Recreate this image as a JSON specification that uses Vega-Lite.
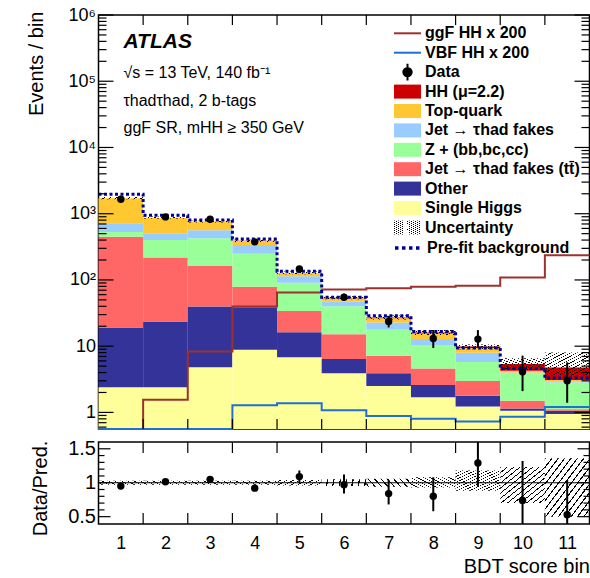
{
  "$schema": "https://vega.github.io/schema/vega-lite/v6.json",
  "padding": {"left": 25.5, "top": 5, "right": 0, "bottom": 0},
  "background": "white",
  "config": {
    "font": "Liberation Sans",
    "view": {"stroke": "#000", "strokeWidth": 1.5},
    "axis": {"grid": false, "domain": false, "ticks": false, "labelFont": "Liberation Sans", "titleFont": "Liberation Sans", "titleFontWeight": "normal", "labelColor": "#000", "titleColor": "#000", "labelFlush": false, "labelOverlap": false, "labelBound": false},
    "legend": {"orient": "none", "title": null, "padding": 0, "labelFont": "Liberation Sans", "labelFontSize": 16, "labelFontWeight": "bold", "labelColor": "#000", "labelOffset": 9.5, "labelLimit": 400, "symbolSize": 196, "rowPadding": 3.4, "legendX": 301}
  },
  "datasets": {
    "comps": [
      {"bin":1,"lo":0.5,"hi":1.5,"comp":"Single Higgs","v":2.4},
      {"bin":1,"lo":0.5,"hi":1.5,"comp":"Other","v":16.7},
      {"bin":1,"lo":0.5,"hi":1.5,"comp":"Jet → τhad fakes (tt̄)","v":428},
      {"bin":1,"lo":0.5,"hi":1.5,"comp":"Z + (bb,bc,cc)","v":84},
      {"bin":1,"lo":0.5,"hi":1.5,"comp":"Jet → τhad fakes","v":188},
      {"bin":1,"lo":0.5,"hi":1.5,"comp":"Top-quark","v":994},
      {"bin":1,"lo":0.5,"hi":1.5,"comp":"HH (μ=2.2)","v":0.01},
      {"bin":2,"lo":1.5,"hi":2.5,"comp":"Single Higgs","v":2.4},
      {"bin":2,"lo":1.5,"hi":2.5,"comp":"Other","v":21.2},
      {"bin":2,"lo":1.5,"hi":2.5,"comp":"Jet → τhad fakes (tt̄)","v":194},
      {"bin":2,"lo":1.5,"hi":2.5,"comp":"Z + (bb,bc,cc)","v":185},
      {"bin":2,"lo":1.5,"hi":2.5,"comp":"Jet → τhad fakes","v":105},
      {"bin":2,"lo":1.5,"hi":2.5,"comp":"Top-quark","v":365},
      {"bin":2,"lo":1.5,"hi":2.5,"comp":"HH (μ=2.2)","v":0.02},
      {"bin":3,"lo":2.5,"hi":3.5,"comp":"Single Higgs","v":4.8},
      {"bin":3,"lo":2.5,"hi":3.5,"comp":"Other","v":34.9},
      {"bin":3,"lo":2.5,"hi":3.5,"comp":"Jet → τhad fakes (tt̄)","v":123},
      {"bin":3,"lo":2.5,"hi":3.5,"comp":"Z + (bb,bc,cc)","v":264},
      {"bin":3,"lo":2.5,"hi":3.5,"comp":"Jet → τhad fakes","v":137},
      {"bin":3,"lo":2.5,"hi":3.5,"comp":"Top-quark","v":196},
      {"bin":3,"lo":2.5,"hi":3.5,"comp":"HH (μ=2.2)","v":0.1},
      {"bin":4,"lo":3.5,"hi":4.5,"comp":"Single Higgs","v":8.8},
      {"bin":4,"lo":3.5,"hi":4.5,"comp":"Other","v":30},
      {"bin":4,"lo":3.5,"hi":4.5,"comp":"Jet → τhad fakes (tt̄)","v":40},
      {"bin":4,"lo":3.5,"hi":4.5,"comp":"Z + (bb,bc,cc)","v":169},
      {"bin":4,"lo":3.5,"hi":4.5,"comp":"Jet → τhad fakes","v":88},
      {"bin":4,"lo":3.5,"hi":4.5,"comp":"Top-quark","v":53},
      {"bin":4,"lo":3.5,"hi":4.5,"comp":"HH (μ=2.2)","v":0.45},
      {"bin":5,"lo":4.5,"hi":5.5,"comp":"Single Higgs","v":6.8},
      {"bin":5,"lo":4.5,"hi":5.5,"comp":"Other","v":9.5},
      {"bin":5,"lo":4.5,"hi":5.5,"comp":"Jet → τhad fakes (tt̄)","v":17.8},
      {"bin":5,"lo":4.5,"hi":5.5,"comp":"Z + (bb,bc,cc)","v":57},
      {"bin":5,"lo":4.5,"hi":5.5,"comp":"Jet → τhad fakes","v":23},
      {"bin":5,"lo":4.5,"hi":5.5,"comp":"Top-quark","v":13},
      {"bin":5,"lo":4.5,"hi":5.5,"comp":"HH (μ=2.2)","v":0.7},
      {"bin":6,"lo":5.5,"hi":6.5,"comp":"Single Higgs","v":3.9},
      {"bin":6,"lo":5.5,"hi":6.5,"comp":"Other","v":2.5},
      {"bin":6,"lo":5.5,"hi":6.5,"comp":"Jet → τhad fakes (tt̄)","v":8.8},
      {"bin":6,"lo":5.5,"hi":6.5,"comp":"Z + (bb,bc,cc)","v":24.8},
      {"bin":6,"lo":5.5,"hi":6.5,"comp":"Jet → τhad fakes","v":6.8},
      {"bin":6,"lo":5.5,"hi":6.5,"comp":"Top-quark","v":6.2},
      {"bin":6,"lo":5.5,"hi":6.5,"comp":"HH (μ=2.2)","v":0.75},
      {"bin":7,"lo":6.5,"hi":7.5,"comp":"Single Higgs","v":2.5},
      {"bin":7,"lo":6.5,"hi":7.5,"comp":"Other","v":1.4},
      {"bin":7,"lo":6.5,"hi":7.5,"comp":"Jet → τhad fakes (tt̄)","v":3.3},
      {"bin":7,"lo":6.5,"hi":7.5,"comp":"Z + (bb,bc,cc)","v":10.5},
      {"bin":7,"lo":6.5,"hi":7.5,"comp":"Jet → τhad fakes","v":5.1},
      {"bin":7,"lo":6.5,"hi":7.5,"comp":"Top-quark","v":3.7},
      {"bin":7,"lo":6.5,"hi":7.5,"comp":"HH (μ=2.2)","v":0.6},
      {"bin":8,"lo":7.5,"hi":8.5,"comp":"Single Higgs","v":1.7},
      {"bin":8,"lo":7.5,"hi":8.5,"comp":"Other","v":0.9},
      {"bin":8,"lo":7.5,"hi":8.5,"comp":"Jet → τhad fakes (tt̄)","v":2.0},
      {"bin":8,"lo":7.5,"hi":8.5,"comp":"Z + (bb,bc,cc)","v":5.8},
      {"bin":8,"lo":7.5,"hi":8.5,"comp":"Jet → τhad fakes","v":2.4},
      {"bin":8,"lo":7.5,"hi":8.5,"comp":"Top-quark","v":2.7},
      {"bin":8,"lo":7.5,"hi":8.5,"comp":"HH (μ=2.2)","v":0.6},
      {"bin":9,"lo":8.5,"hi":9.5,"comp":"Single Higgs","v":1.23},
      {"bin":9,"lo":8.5,"hi":9.5,"comp":"Other","v":0.56},
      {"bin":9,"lo":8.5,"hi":9.5,"comp":"Jet → τhad fakes (tt̄)","v":1.2},
      {"bin":9,"lo":8.5,"hi":9.5,"comp":"Z + (bb,bc,cc)","v":2.8},
      {"bin":9,"lo":8.5,"hi":9.5,"comp":"Jet → τhad fakes","v":2.2},
      {"bin":9,"lo":8.5,"hi":9.5,"comp":"Top-quark","v":1.36},
      {"bin":9,"lo":8.5,"hi":9.5,"comp":"HH (μ=2.2)","v":0.55},
      {"bin":10,"lo":9.5,"hi":10.5,"comp":"Single Higgs","v":1.06},
      {"bin":10,"lo":9.5,"hi":10.5,"comp":"Other","v":0.09},
      {"bin":10,"lo":9.5,"hi":10.5,"comp":"Jet → τhad fakes (tt̄)","v":0.35},
      {"bin":10,"lo":9.5,"hi":10.5,"comp":"Z + (bb,bc,cc)","v":2.38},
      {"bin":10,"lo":9.5,"hi":10.5,"comp":"Jet → τhad fakes","v":0.12},
      {"bin":10,"lo":9.5,"hi":10.5,"comp":"Top-quark","v":0.26},
      {"bin":10,"lo":9.5,"hi":10.5,"comp":"HH (μ=2.2)","v":1.11},
      {"bin":11,"lo":10.5,"hi":11.5,"comp":"Single Higgs","v":0.95},
      {"bin":11,"lo":10.5,"hi":11.5,"comp":"Other","v":0.11},
      {"bin":11,"lo":10.5,"hi":11.5,"comp":"Jet → τhad fakes (tt̄)","v":0.06},
      {"bin":11,"lo":10.5,"hi":11.5,"comp":"Z + (bb,bc,cc)","v":1.71},
      {"bin":11,"lo":10.5,"hi":11.5,"comp":"Jet → τhad fakes","v":0.12},
      {"bin":11,"lo":10.5,"hi":11.5,"comp":"Top-quark","v":0.13},
      {"bin":11,"lo":10.5,"hi":11.5,"comp":"HH (μ=2.2)","v":1.69}
    ],
    "unc": [
      {"lo":0.5,"hi":1.5,"ulo":1650,"uhi":1780},
      {"lo":1.5,"hi":2.5,"ulo":845,"uhi":905},
      {"lo":2.5,"hi":3.5,"ulo":735,"uhi":785},
      {"lo":3.5,"hi":4.5,"ulo":375,"uhi":405},
      {"lo":4.5,"hi":5.5,"ulo":122,"uhi":134},
      {"lo":5.5,"hi":6.5,"ulo":51,"uhi":56.5},
      {"lo":6.5,"hi":7.5,"ulo":25.3,"uhi":29},
      {"lo":7.5,"hi":8.5,"ulo":14.8,"uhi":17.6},
      {"lo":8.5,"hi":9.5,"ulo":9.0,"uhi":10.6},
      {"lo":9.5,"hi":10.5,"ulo":4.4,"uhi":6.6},
      {"lo":10.5,"hi":11.5,"ulo":3.6,"uhi":8.0}
    ],
    "steps": [
      {"s":"ggF HH x 200","edge":0.5,"v":0.3},{"s":"ggF HH x 200","edge":1.5,"v":1.55},{"s":"ggF HH x 200","edge":2.5,"v":8.3},{"s":"ggF HH x 200","edge":3.5,"v":39.7},{"s":"ggF HH x 200","edge":4.5,"v":64.6},{"s":"ggF HH x 200","edge":5.5,"v":72},{"s":"ggF HH x 200","edge":6.5,"v":74.7},{"s":"ggF HH x 200","edge":7.5,"v":78.7},{"s":"ggF HH x 200","edge":8.5,"v":81.5},{"s":"ggF HH x 200","edge":9.5,"v":109},{"s":"ggF HH x 200","edge":10.5,"v":235},{"s":"ggF HH x 200","edge":11.5,"v":235},
      {"s":"VBF HH x 200","edge":0.5,"v":0.2},{"s":"VBF HH x 200","edge":1.5,"v":0.3},{"s":"VBF HH x 200","edge":2.5,"v":0.4},{"s":"VBF HH x 200","edge":3.5,"v":1.28},{"s":"VBF HH x 200","edge":4.5,"v":1.37},{"s":"VBF HH x 200","edge":5.5,"v":1.08},{"s":"VBF HH x 200","edge":6.5,"v":0.88},{"s":"VBF HH x 200","edge":7.5,"v":0.8},{"s":"VBF HH x 200","edge":8.5,"v":0.73},{"s":"VBF HH x 200","edge":9.5,"v":0.86},{"s":"VBF HH x 200","edge":10.5,"v":1.21},{"s":"VBF HH x 200","edge":11.5,"v":1.21},
      {"s":"Pre-fit background","edge":0.5,"v":1968},{"s":"Pre-fit background","edge":1.5,"v":949},{"s":"Pre-fit background","edge":2.5,"v":806},{"s":"Pre-fit background","edge":3.5,"v":416},{"s":"Pre-fit background","edge":4.5,"v":135},{"s":"Pre-fit background","edge":5.5,"v":55},{"s":"Pre-fit background","edge":6.5,"v":28.7},{"s":"Pre-fit background","edge":7.5,"v":16.7},{"s":"Pre-fit background","edge":8.5,"v":9.4},{"s":"Pre-fit background","edge":9.5,"v":4.6},{"s":"Pre-fit background","edge":10.5,"v":3.3},{"s":"Pre-fit background","edge":11.5,"v":3.3}
    ],
    "obs": [
      {"bin":1,"v":1655,"elo":1615,"ehi":1695},
      {"bin":2,"v":895,"elo":865,"ehi":925},
      {"bin":3,"v":826,"elo":797,"ehi":855},
      {"bin":4,"v":376,"elo":357,"ehi":395},
      {"bin":5,"v":146,"elo":134,"ehi":158},
      {"bin":6,"v":55,"elo":48,"ehi":62},
      {"bin":7,"v":23.6,"elo":19.2,"ehi":28.7},
      {"bin":8,"v":13.1,"elo":9.4,"ehi":17.5},
      {"bin":9,"v":12.8,"elo":9.6,"ehi":17.5},
      {"bin":10,"v":4.1,"elo":2.1,"ehi":7.2},
      {"bin":11,"v":3.0,"elo":1.4,"ehi":5.7}
    ],
    "ratio": [
      {"bin":1,"lo":0.5,"hi":1.5,"r":0.95,"rlo":0.93,"rhi":0.97,"ulo":0.97,"uhi":1.03},
      {"bin":2,"lo":1.5,"hi":2.5,"r":1.015,"rlo":0.99,"rhi":1.04,"ulo":0.97,"uhi":1.03},
      {"bin":3,"lo":2.5,"hi":3.5,"r":1.05,"rlo":1.02,"rhi":1.08,"ulo":0.97,"uhi":1.03},
      {"bin":4,"lo":3.5,"hi":4.5,"r":0.92,"rlo":0.88,"rhi":0.96,"ulo":0.97,"uhi":1.03},
      {"bin":5,"lo":4.5,"hi":5.5,"r":1.09,"rlo":1.0,"rhi":1.18,"ulo":0.96,"uhi":1.04},
      {"bin":6,"lo":5.5,"hi":6.5,"r":0.97,"rlo":0.84,"rhi":1.12,"ulo":0.95,"uhi":1.05},
      {"bin":7,"lo":6.5,"hi":7.5,"r":0.84,"rlo":0.68,"rhi":1.04,"ulo":0.94,"uhi":1.06},
      {"bin":8,"lo":7.5,"hi":8.5,"r":0.8,"rlo":0.58,"rhi":1.08,"ulo":0.93,"uhi":1.08},
      {"bin":9,"lo":8.5,"hi":9.5,"r":1.29,"rlo":0.94,"rhi":1.65,"ulo":0.88,"uhi":1.18},
      {"bin":10,"lo":9.5,"hi":10.5,"r":0.74,"rlo":0.35,"rhi":1.32,"ulo":0.7,"uhi":1.23},
      {"bin":11,"lo":10.5,"hi":11.5,"r":0.53,"rlo":0.35,"rhi":1.04,"ulo":0.5,"uhi":1.36}
    ],
    "unity": [{"one": 1}],
    "yt": [
      {"v":1,"k":"M","xl":0.5,"xr":11.5},{"v":10,"k":"M","xl":0.5,"xr":11.5},{"v":100,"k":"M","xl":0.5,"xr":11.5},{"v":1000,"k":"M","xl":0.5,"xr":11.5},{"v":10000,"k":"M","xl":0.5,"xr":11.5},{"v":100000,"k":"M","xl":0.5,"xr":11.5},{"v":1000000,"k":"M","xl":0.5,"xr":11.5},
      {"v":0.6,"k":"m","xl":0.5,"xr":11.5},{"v":0.7,"k":"m","xl":0.5,"xr":11.5},{"v":0.8,"k":"m","xl":0.5,"xr":11.5},{"v":0.9,"k":"m","xl":0.5,"xr":11.5},
      {"v":2,"k":"m","xl":0.5,"xr":11.5},{"v":3,"k":"m","xl":0.5,"xr":11.5},{"v":4,"k":"m","xl":0.5,"xr":11.5},{"v":5,"k":"m","xl":0.5,"xr":11.5},{"v":6,"k":"m","xl":0.5,"xr":11.5},{"v":7,"k":"m","xl":0.5,"xr":11.5},{"v":8,"k":"m","xl":0.5,"xr":11.5},{"v":9,"k":"m","xl":0.5,"xr":11.5},
      {"v":20,"k":"m","xl":0.5,"xr":11.5},{"v":30,"k":"m","xl":0.5,"xr":11.5},{"v":40,"k":"m","xl":0.5,"xr":11.5},{"v":50,"k":"m","xl":0.5,"xr":11.5},{"v":60,"k":"m","xl":0.5,"xr":11.5},{"v":70,"k":"m","xl":0.5,"xr":11.5},{"v":80,"k":"m","xl":0.5,"xr":11.5},{"v":90,"k":"m","xl":0.5,"xr":11.5},
      {"v":200,"k":"m","xl":0.5,"xr":11.5},{"v":300,"k":"m","xl":0.5,"xr":11.5},{"v":400,"k":"m","xl":0.5,"xr":11.5},{"v":500,"k":"m","xl":0.5,"xr":11.5},{"v":600,"k":"m","xl":0.5,"xr":11.5},{"v":700,"k":"m","xl":0.5,"xr":11.5},{"v":800,"k":"m","xl":0.5,"xr":11.5},{"v":900,"k":"m","xl":0.5,"xr":11.5},
      {"v":2000,"k":"m","xl":0.5,"xr":11.5},{"v":3000,"k":"m","xl":0.5,"xr":11.5},{"v":4000,"k":"m","xl":0.5,"xr":11.5},{"v":5000,"k":"m","xl":0.5,"xr":11.5},{"v":6000,"k":"m","xl":0.5,"xr":11.5},{"v":7000,"k":"m","xl":0.5,"xr":11.5},{"v":8000,"k":"m","xl":0.5,"xr":11.5},{"v":9000,"k":"m","xl":0.5,"xr":11.5},
      {"v":20000,"k":"m","xl":0.5,"xr":11.5},{"v":30000,"k":"m","xl":0.5,"xr":11.5},{"v":40000,"k":"m","xl":0.5,"xr":11.5},{"v":50000,"k":"m","xl":0.5,"xr":11.5},{"v":60000,"k":"m","xl":0.5,"xr":11.5},{"v":70000,"k":"m","xl":0.5,"xr":11.5},{"v":80000,"k":"m","xl":0.5,"xr":11.5},{"v":90000,"k":"m","xl":0.5,"xr":11.5},
      {"v":200000,"k":"m","xl":0.5,"xr":11.5},{"v":300000,"k":"m","xl":0.5,"xr":11.5},{"v":400000,"k":"m","xl":0.5,"xr":11.5},{"v":500000,"k":"m","xl":0.5,"xr":11.5},{"v":600000,"k":"m","xl":0.5,"xr":11.5},{"v":700000,"k":"m","xl":0.5,"xr":11.5},{"v":800000,"k":"m","xl":0.5,"xr":11.5},{"v":900000,"k":"m","xl":0.5,"xr":11.5}
    ],
    "xt": [
      {"e":1.5,"yb":0.562,"yt":1000000,"rb":0.392,"rt":1.6},{"e":2.5,"yb":0.562,"yt":1000000,"rb":0.392,"rt":1.6},{"e":3.5,"yb":0.562,"yt":1000000,"rb":0.392,"rt":1.6},{"e":4.5,"yb":0.562,"yt":1000000,"rb":0.392,"rt":1.6},{"e":5.5,"yb":0.562,"yt":1000000,"rb":0.392,"rt":1.6},
      {"e":6.5,"yb":0.562,"yt":1000000,"rb":0.392,"rt":1.6},{"e":7.5,"yb":0.562,"yt":1000000,"rb":0.392,"rt":1.6},{"e":8.5,"yb":0.562,"yt":1000000,"rb":0.392,"rt":1.6},{"e":9.5,"yb":0.562,"yt":1000000,"rb":0.392,"rt":1.6},{"e":10.5,"yb":0.562,"yt":1000000,"rb":0.392,"rt":1.6}
    ],
    "rt": [
      {"v":0.5,"k":"M","xl":0.5,"xr":11.5},{"v":1,"k":"M","xl":0.5,"xr":11.5},{"v":1.5,"k":"M","xl":0.5,"xr":11.5},
      {"v":0.6,"k":"m","xl":0.5,"xr":11.5},{"v":0.7,"k":"m","xl":0.5,"xr":11.5},{"v":0.8,"k":"m","xl":0.5,"xr":11.5},{"v":0.9,"k":"m","xl":0.5,"xr":11.5},
      {"v":1.1,"k":"m","xl":0.5,"xr":11.5},{"v":1.2,"k":"m","xl":0.5,"xr":11.5},{"v":1.3,"k":"m","xl":0.5,"xr":11.5},{"v":1.4,"k":"m","xl":0.5,"xr":11.5}
    ],
    "atlas": [{"x":1.06,"y":320000,"t":"ATLAS"}],
    "notes": [
      {"x":1.06,"y":110000,"t":"√s = 13 TeV, 140 fb⁻¹"},
      {"x":1.06,"y":42000,"t":"τhadτhad, 2 b-tags"},
      {"x":1.06,"y":16700,"t":"ggF SR, mHH ≥ 350 GeV"}
    ]
  },
  "spacing": 13,
  "bounds": "flush",
  "resolve": {"scale": {"color": "independent", "opacity": "independent"}},
  "vconcat": [
    {
      "width": 491,
      "height": 414,
      "resolve": {"scale": {"x": "independent", "y": "independent", "color": "independent", "opacity": "independent"}, "axis": {"x": "independent", "y": "independent"}},
      "layer": [
        {
          "data": {"name": "comps"},
          "transform": [{"stack": "v", "groupby": ["bin"], "as": ["y0", "y1"]}],
          "mark": {"type": "rect"},
          "encoding": {
            "x": {"field": "lo", "type": "quantitative", "scale": {"domain": [0.5, 11.5], "nice": false, "zero": false}, "axis": null},
            "x2": {"field": "hi"},
            "y": {"field": "y1", "type": "quantitative", "scale": {"type": "log", "domain": [0.562, 1000000], "nice": false, "clamp": true},
                  "axis": {"orient": "left", "values": [1,10,100,1000,10000,100000,1000000],
                           "labelExpr": "datum.value == 1 ? '1' : datum.value == 10 ? '10' : datum.value == 100 ? '10²' : datum.value == 1000 ? '10³' : datum.value == 10000 ? '10⁴' : datum.value == 100000 ? '10⁵' : datum.value == 1000000 ? '10⁶' : ''",
                           "labelFontSize": 18, "labelPadding": 3,
                           "title": "Events / bin", "titleFontSize": 20, "titleX": -55.6, "titleY": -4, "titleAnchor": "end", "titleAlign": "right", "titleBaseline": "alphabetic"}},
            "y2": {"field": "y0"},
            "color": {"field": "comp", "type": "nominal",
              "scale": {"domain": ["HH (μ=2.2)", "Top-quark", "Jet → τhad fakes", "Z + (bb,bc,cc)", "Jet → τhad fakes (tt̄)", "Other", "Single Higgs"],
                        "range": ["#cc0000", "#ffc832", "#99ccff", "#99ff99", "#ff6666", "#333399", "#ffff99"]},
              "legend": {"legendY": 68.6, "symbolType": "M-1.93,-1H1.93V1H-1.93Z", "symbolStrokeWidth": 0}
            }
          }
        },
        {
          "data": {"name": "unc"},
          "mark": {"type": "rect", "fill": {"gradient": "linear", "x1": 0, "y1": 0, "x2": 1, "y2": 1, "stops": [
            {"offset":0,"color":"#000"},{"offset":0.015,"color":"#000"},{"offset":0.015,"color":"rgba(0,0,0,0)"},{"offset":0.0714,"color":"rgba(0,0,0,0)"},
            {"offset":0.0714,"color":"#000"},{"offset":0.0864,"color":"#000"},{"offset":0.0864,"color":"rgba(0,0,0,0)"},{"offset":0.1429,"color":"rgba(0,0,0,0)"},
            {"offset":0.1429,"color":"#000"},{"offset":0.1579,"color":"#000"},{"offset":0.1579,"color":"rgba(0,0,0,0)"},{"offset":0.2143,"color":"rgba(0,0,0,0)"},
            {"offset":0.2143,"color":"#000"},{"offset":0.2293,"color":"#000"},{"offset":0.2293,"color":"rgba(0,0,0,0)"},{"offset":0.2857,"color":"rgba(0,0,0,0)"},
            {"offset":0.2857,"color":"#000"},{"offset":0.3007,"color":"#000"},{"offset":0.3007,"color":"rgba(0,0,0,0)"},{"offset":0.3571,"color":"rgba(0,0,0,0)"},
            {"offset":0.3571,"color":"#000"},{"offset":0.3721,"color":"#000"},{"offset":0.3721,"color":"rgba(0,0,0,0)"},{"offset":0.4286,"color":"rgba(0,0,0,0)"},
            {"offset":0.4286,"color":"#000"},{"offset":0.4436,"color":"#000"},{"offset":0.4436,"color":"rgba(0,0,0,0)"},{"offset":0.5,"color":"rgba(0,0,0,0)"},
            {"offset":0.5,"color":"#000"},{"offset":0.515,"color":"#000"},{"offset":0.515,"color":"rgba(0,0,0,0)"},{"offset":0.5714,"color":"rgba(0,0,0,0)"},
            {"offset":0.5714,"color":"#000"},{"offset":0.5864,"color":"#000"},{"offset":0.5864,"color":"rgba(0,0,0,0)"},{"offset":0.6429,"color":"rgba(0,0,0,0)"},
            {"offset":0.6429,"color":"#000"},{"offset":0.6579,"color":"#000"},{"offset":0.6579,"color":"rgba(0,0,0,0)"},{"offset":0.7143,"color":"rgba(0,0,0,0)"},
            {"offset":0.7143,"color":"#000"},{"offset":0.7293,"color":"#000"},{"offset":0.7293,"color":"rgba(0,0,0,0)"},{"offset":0.7857,"color":"rgba(0,0,0,0)"},
            {"offset":0.7857,"color":"#000"},{"offset":0.8007,"color":"#000"},{"offset":0.8007,"color":"rgba(0,0,0,0)"},{"offset":0.8571,"color":"rgba(0,0,0,0)"},
            {"offset":0.8571,"color":"#000"},{"offset":0.8721,"color":"#000"},{"offset":0.8721,"color":"rgba(0,0,0,0)"},{"offset":0.9286,"color":"rgba(0,0,0,0)"},
            {"offset":0.9286,"color":"#000"},{"offset":0.9436,"color":"#000"},{"offset":0.9436,"color":"rgba(0,0,0,0)"},{"offset":1,"color":"rgba(0,0,0,0)"}]}},
          "encoding": {
            "x": {"field": "lo", "type": "quantitative", "scale": {"domain": [0.5, 11.5], "nice": false, "zero": false}, "axis": null},
            "x2": {"field": "hi"},
            "y": {"field": "ulo", "type": "quantitative", "scale": {"type": "log", "domain": [0.562, 1000000], "nice": false, "clamp": true}, "axis": null},
            "y2": {"field": "uhi"},
            "opacity": {"datum": "Uncertainty", "type": "nominal", "scale": {"range": [1]},
              "legend": {"legendY": 204.5, "symbolType": "M-1.93,-1H1.93V1H-1.93Z", "symbolStrokeColor": "#000", "symbolStrokeWidth": 1.2}}
          }
        },
        {
          "data": {"name": "steps"},
          "transform": [{"filter": "datum.s != 'Pre-fit background'"}],
          "mark": {"type": "line", "interpolate": "step-after", "strokeWidth": 2},
          "encoding": {
            "x": {"field": "edge", "type": "quantitative", "scale": {"domain": [0.5, 11.5], "nice": false, "zero": false}, "axis": null},
            "y": {"field": "v", "type": "quantitative", "scale": {"type": "log", "domain": [0.562, 1000000], "nice": false, "clamp": true}, "axis": null},
            "color": {"field": "s", "type": "nominal", "scale": {"domain": ["ggF HH x 200", "VBF HH x 200"], "range": ["#a0302d", "#1f6fd6"]},
              "legend": {"legendY": 10.3, "symbolType": "M-1.93,0H1.93", "symbolStrokeWidth": 2}}
          }
        },
        {
          "data": {"name": "steps"},
          "transform": [{"filter": "datum.s == 'Pre-fit background'"}],
          "mark": {"type": "line", "interpolate": "step-after", "strokeWidth": 3, "strokeDash": [3, 2.5]},
          "encoding": {
            "x": {"field": "edge", "type": "quantitative", "scale": {"domain": [0.5, 11.5], "nice": false, "zero": false}, "axis": null},
            "y": {"field": "v", "type": "quantitative", "scale": {"type": "log", "domain": [0.562, 1000000], "nice": false, "clamp": true}, "axis": null},
            "color": {"field": "s", "type": "nominal", "scale": {"domain": ["Pre-fit background"], "range": ["#000099"]},
              "legend": {"legendY": 223.9, "symbolType": "M-1.93,0H1.93", "symbolStrokeWidth": 3.5, "symbolDash": [3.5, 3.5]}}
          }
        },
        {
          "data": {"name": "obs"},
          "mark": {"type": "rule", "color": "#000", "strokeWidth": 2},
          "encoding": {
            "x": {"field": "bin", "type": "quantitative", "scale": {"domain": [0.5, 11.5], "nice": false, "zero": false}, "axis": null},
            "y": {"field": "elo", "type": "quantitative", "scale": {"type": "log", "domain": [0.562, 1000000], "nice": false, "clamp": true}, "axis": null},
            "y2": {"field": "ehi"}
          }
        },
        {
          "data": {"name": "obs"},
          "mark": {"type": "circle", "size": 55, "opacity": 1},
          "encoding": {
            "x": {"field": "bin", "type": "quantitative", "scale": {"domain": [0.5, 11.5], "nice": false, "zero": false}, "axis": null},
            "y": {"field": "v", "type": "quantitative", "scale": {"type": "log", "domain": [0.562, 1000000], "nice": false, "clamp": true}, "axis": null},
            "color": {"datum": "Data", "type": "nominal", "scale": {"range": ["#000000"]},
              "legend": {"legendY": 49.1, "symbolType": "M0,-1.2V1.2M-0.6,0A0.6,0.6 0 1,0 0.6,0A0.6,0.6 0 1,0 -0.6,0Z", "symbolStrokeColor": "#000", "symbolStrokeWidth": 2}}
          }
        },
        {
          "data": {"name": "atlas"},
          "mark": {"type": "text", "align": "left", "baseline": "alphabetic", "font": "Liberation Sans", "fontSize": 21, "fontWeight": "bold", "fontStyle": "italic", "color": "#000"},
          "encoding": {
            "x": {"field": "x", "type": "quantitative", "scale": {"domain": [0.5, 11.5], "nice": false, "zero": false}, "axis": null},
            "y": {"field": "y", "type": "quantitative", "scale": {"type": "log", "domain": [0.562, 1000000], "nice": false, "clamp": true}, "axis": null},
            "text": {"field": "t"}
          }
        },
        {
          "data": {"name": "notes"},
          "mark": {"type": "text", "align": "left", "baseline": "alphabetic", "font": "Liberation Sans", "fontSize": 16, "color": "#000"},
          "encoding": {
            "x": {"field": "x", "type": "quantitative", "scale": {"domain": [0.5, 11.5], "nice": false, "zero": false}, "axis": null},
            "y": {"field": "y", "type": "quantitative", "scale": {"type": "log", "domain": [0.562, 1000000], "nice": false, "clamp": true}, "axis": null},
            "text": {"field": "t"}
          }
        },
        {
          "data": {"name": "yt"},
          "transform": [{"filter": "datum.k == 'M'"}],
          "mark": {"type": "rule", "color": "#000", "strokeWidth": 1.2, "x2Offset": 15},
          "encoding": {
            "x": {"field": "xl", "type": "quantitative", "scale": {"domain": [0.5, 11.5], "nice": false, "zero": false}, "axis": null},
            "x2": {"field": "xl"},
            "y": {"field": "v", "type": "quantitative", "scale": {"type": "log", "domain": [0.562, 1000000], "nice": false, "clamp": true}, "axis": null}
          }
        },
        {
          "data": {"name": "yt"},
          "transform": [{"filter": "datum.k == 'M'"}],
          "mark": {"type": "rule", "color": "#000", "strokeWidth": 1.2, "x2Offset": -15},
          "encoding": {
            "x": {"field": "xr", "type": "quantitative", "scale": {"domain": [0.5, 11.5], "nice": false, "zero": false}, "axis": null},
            "x2": {"field": "xr"},
            "y": {"field": "v", "type": "quantitative", "scale": {"type": "log", "domain": [0.562, 1000000], "nice": false, "clamp": true}, "axis": null}
          }
        },
        {
          "data": {"name": "yt"},
          "transform": [{"filter": "datum.k == 'm'"}],
          "mark": {"type": "rule", "color": "#000", "strokeWidth": 1.2, "x2Offset": 8},
          "encoding": {
            "x": {"field": "xl", "type": "quantitative", "scale": {"domain": [0.5, 11.5], "nice": false, "zero": false}, "axis": null},
            "x2": {"field": "xl"},
            "y": {"field": "v", "type": "quantitative", "scale": {"type": "log", "domain": [0.562, 1000000], "nice": false, "clamp": true}, "axis": null}
          }
        },
        {
          "data": {"name": "yt"},
          "transform": [{"filter": "datum.k == 'm'"}],
          "mark": {"type": "rule", "color": "#000", "strokeWidth": 1.2, "x2Offset": -8},
          "encoding": {
            "x": {"field": "xr", "type": "quantitative", "scale": {"domain": [0.5, 11.5], "nice": false, "zero": false}, "axis": null},
            "x2": {"field": "xr"},
            "y": {"field": "v", "type": "quantitative", "scale": {"type": "log", "domain": [0.562, 1000000], "nice": false, "clamp": true}, "axis": null}
          }
        },
        {
          "data": {"name": "xt"},
          "mark": {"type": "rule", "color": "#000", "strokeWidth": 1.2, "y2Offset": -10},
          "encoding": {
            "x": {"field": "e", "type": "quantitative", "scale": {"domain": [0.5, 11.5], "nice": false, "zero": false}, "axis": null},
            "y": {"field": "yb", "type": "quantitative", "scale": {"type": "log", "domain": [0.562, 1000000], "nice": false, "clamp": true}, "axis": null},
            "y2": {"field": "yb"}
          }
        },
        {
          "data": {"name": "xt"},
          "mark": {"type": "rule", "color": "#000", "strokeWidth": 1.2, "y2Offset": 10},
          "encoding": {
            "x": {"field": "e", "type": "quantitative", "scale": {"domain": [0.5, 11.5], "nice": false, "zero": false}, "axis": null},
            "y": {"field": "yt", "type": "quantitative", "scale": {"type": "log", "domain": [0.562, 1000000], "nice": false, "clamp": true}, "axis": null},
            "y2": {"field": "yt"}
          }
        }
      ]
    },
    {
      "width": 491,
      "height": 82,
      "resolve": {"scale": {"x": "independent", "y": "independent"}, "axis": {"x": "independent", "y": "independent"}},
      "layer": [
        {
          "data": {"name": "ratio"},
          "mark": {"type": "rect", "fill": {"gradient": "linear", "x1": 0, "y1": 0, "x2": 1, "y2": 1, "stops": [
            {"offset":0,"color":"#000"},{"offset":0.015,"color":"#000"},{"offset":0.015,"color":"rgba(0,0,0,0)"},{"offset":0.0714,"color":"rgba(0,0,0,0)"},
            {"offset":0.0714,"color":"#000"},{"offset":0.0864,"color":"#000"},{"offset":0.0864,"color":"rgba(0,0,0,0)"},{"offset":0.1429,"color":"rgba(0,0,0,0)"},
            {"offset":0.1429,"color":"#000"},{"offset":0.1579,"color":"#000"},{"offset":0.1579,"color":"rgba(0,0,0,0)"},{"offset":0.2143,"color":"rgba(0,0,0,0)"},
            {"offset":0.2143,"color":"#000"},{"offset":0.2293,"color":"#000"},{"offset":0.2293,"color":"rgba(0,0,0,0)"},{"offset":0.2857,"color":"rgba(0,0,0,0)"},
            {"offset":0.2857,"color":"#000"},{"offset":0.3007,"color":"#000"},{"offset":0.3007,"color":"rgba(0,0,0,0)"},{"offset":0.3571,"color":"rgba(0,0,0,0)"},
            {"offset":0.3571,"color":"#000"},{"offset":0.3721,"color":"#000"},{"offset":0.3721,"color":"rgba(0,0,0,0)"},{"offset":0.4286,"color":"rgba(0,0,0,0)"},
            {"offset":0.4286,"color":"#000"},{"offset":0.4436,"color":"#000"},{"offset":0.4436,"color":"rgba(0,0,0,0)"},{"offset":0.5,"color":"rgba(0,0,0,0)"},
            {"offset":0.5,"color":"#000"},{"offset":0.515,"color":"#000"},{"offset":0.515,"color":"rgba(0,0,0,0)"},{"offset":0.5714,"color":"rgba(0,0,0,0)"},
            {"offset":0.5714,"color":"#000"},{"offset":0.5864,"color":"#000"},{"offset":0.5864,"color":"rgba(0,0,0,0)"},{"offset":0.6429,"color":"rgba(0,0,0,0)"},
            {"offset":0.6429,"color":"#000"},{"offset":0.6579,"color":"#000"},{"offset":0.6579,"color":"rgba(0,0,0,0)"},{"offset":0.7143,"color":"rgba(0,0,0,0)"},
            {"offset":0.7143,"color":"#000"},{"offset":0.7293,"color":"#000"},{"offset":0.7293,"color":"rgba(0,0,0,0)"},{"offset":0.7857,"color":"rgba(0,0,0,0)"},
            {"offset":0.7857,"color":"#000"},{"offset":0.8007,"color":"#000"},{"offset":0.8007,"color":"rgba(0,0,0,0)"},{"offset":0.8571,"color":"rgba(0,0,0,0)"},
            {"offset":0.8571,"color":"#000"},{"offset":0.8721,"color":"#000"},{"offset":0.8721,"color":"rgba(0,0,0,0)"},{"offset":0.9286,"color":"rgba(0,0,0,0)"},
            {"offset":0.9286,"color":"#000"},{"offset":0.9436,"color":"#000"},{"offset":0.9436,"color":"rgba(0,0,0,0)"},{"offset":1,"color":"rgba(0,0,0,0)"}]}},
          "encoding": {
            "x": {"field": "lo", "type": "quantitative", "scale": {"domain": [0.5, 11.5], "nice": false, "zero": false},
                  "axis": {"orient": "bottom", "values": [1,2,3,4,5,6,7,8,9,10,11], "format": "d", "labelFontSize": 18, "labelPadding": 10,
                           "title": "BDT score bin", "titleFontSize": 20, "titleAnchor": "end", "titlePadding": 4}},
            "x2": {"field": "hi"},
            "y": {"field": "ulo", "type": "quantitative", "scale": {"domain": [0.392, 1.6], "nice": false, "zero": false, "clamp": true},
                  "axis": {"orient": "left", "values": [0.5,1,1.5],
                           "labelExpr": "datum.value == 0.5 ? '0.5' : datum.value == 1 ? '1' : '1.5'",
                           "labelFontSize": 20, "labelPadding": 3,
                           "title": "Data/Pred.", "titleFontSize": 20, "titleX": -51.6, "titleY": 46, "titleBaseline": "alphabetic"}},
            "y2": {"field": "uhi"}
          }
        },
        {
          "data": {"name": "unity"},
          "mark": {"type": "rule", "color": "#000", "strokeWidth": 1.2},
          "encoding": {
            "y": {"field": "one", "type": "quantitative", "scale": {"domain": [0.392, 1.6], "nice": false, "zero": false, "clamp": true}, "axis": null}
          }
        },
        {
          "data": {"name": "ratio"},
          "mark": {"type": "rule", "color": "#000", "strokeWidth": 2},
          "encoding": {
            "x": {"field": "bin", "type": "quantitative", "scale": {"domain": [0.5, 11.5], "nice": false, "zero": false}, "axis": null},
            "y": {"field": "rlo", "type": "quantitative", "scale": {"domain": [0.392, 1.6], "nice": false, "zero": false, "clamp": true}, "axis": null},
            "y2": {"field": "rhi"}
          }
        },
        {
          "data": {"name": "ratio"},
          "mark": {"type": "circle", "color": "#000", "size": 55, "opacity": 1},
          "encoding": {
            "x": {"field": "bin", "type": "quantitative", "scale": {"domain": [0.5, 11.5], "nice": false, "zero": false}, "axis": null},
            "y": {"field": "r", "type": "quantitative", "scale": {"domain": [0.392, 1.6], "nice": false, "zero": false, "clamp": true}, "axis": null}
          }
        },
        {
          "data": {"name": "rt"},
          "transform": [{"filter": "datum.k == 'M'"}],
          "mark": {"type": "rule", "color": "#000", "strokeWidth": 1.2, "x2Offset": 12},
          "encoding": {
            "x": {"field": "xl", "type": "quantitative", "scale": {"domain": [0.5, 11.5], "nice": false, "zero": false}, "axis": null},
            "x2": {"field": "xl"},
            "y": {"field": "v", "type": "quantitative", "scale": {"domain": [0.392, 1.6], "nice": false, "zero": false, "clamp": true}, "axis": null}
          }
        },
        {
          "data": {"name": "rt"},
          "transform": [{"filter": "datum.k == 'M'"}],
          "mark": {"type": "rule", "color": "#000", "strokeWidth": 1.2, "x2Offset": -12},
          "encoding": {
            "x": {"field": "xr", "type": "quantitative", "scale": {"domain": [0.5, 11.5], "nice": false, "zero": false}, "axis": null},
            "x2": {"field": "xr"},
            "y": {"field": "v", "type": "quantitative", "scale": {"domain": [0.392, 1.6], "nice": false, "zero": false, "clamp": true}, "axis": null}
          }
        },
        {
          "data": {"name": "rt"},
          "transform": [{"filter": "datum.k == 'm'"}],
          "mark": {"type": "rule", "color": "#000", "strokeWidth": 1.2, "x2Offset": 6},
          "encoding": {
            "x": {"field": "xl", "type": "quantitative", "scale": {"domain": [0.5, 11.5], "nice": false, "zero": false}, "axis": null},
            "x2": {"field": "xl"},
            "y": {"field": "v", "type": "quantitative", "scale": {"domain": [0.392, 1.6], "nice": false, "zero": false, "clamp": true}, "axis": null}
          }
        },
        {
          "data": {"name": "rt"},
          "transform": [{"filter": "datum.k == 'm'"}],
          "mark": {"type": "rule", "color": "#000", "strokeWidth": 1.2, "x2Offset": -6},
          "encoding": {
            "x": {"field": "xr", "type": "quantitative", "scale": {"domain": [0.5, 11.5], "nice": false, "zero": false}, "axis": null},
            "x2": {"field": "xr"},
            "y": {"field": "v", "type": "quantitative", "scale": {"domain": [0.392, 1.6], "nice": false, "zero": false, "clamp": true}, "axis": null}
          }
        },
        {
          "data": {"name": "xt"},
          "mark": {"type": "rule", "color": "#000", "strokeWidth": 1.2, "y2Offset": -11},
          "encoding": {
            "x": {"field": "e", "type": "quantitative", "scale": {"domain": [0.5, 11.5], "nice": false, "zero": false}, "axis": null},
            "y": {"field": "rb", "type": "quantitative", "scale": {"domain": [0.392, 1.6], "nice": false, "zero": false, "clamp": true}, "axis": null},
            "y2": {"field": "rb"}
          }
        },
        {
          "data": {"name": "xt"},
          "mark": {"type": "rule", "color": "#000", "strokeWidth": 1.2, "y2Offset": 11},
          "encoding": {
            "x": {"field": "e", "type": "quantitative", "scale": {"domain": [0.5, 11.5], "nice": false, "zero": false}, "axis": null},
            "y": {"field": "rt", "type": "quantitative", "scale": {"domain": [0.392, 1.6], "nice": false, "zero": false, "clamp": true}, "axis": null},
            "y2": {"field": "rt"}
          }
        }
      ]
    }
  ]
}
